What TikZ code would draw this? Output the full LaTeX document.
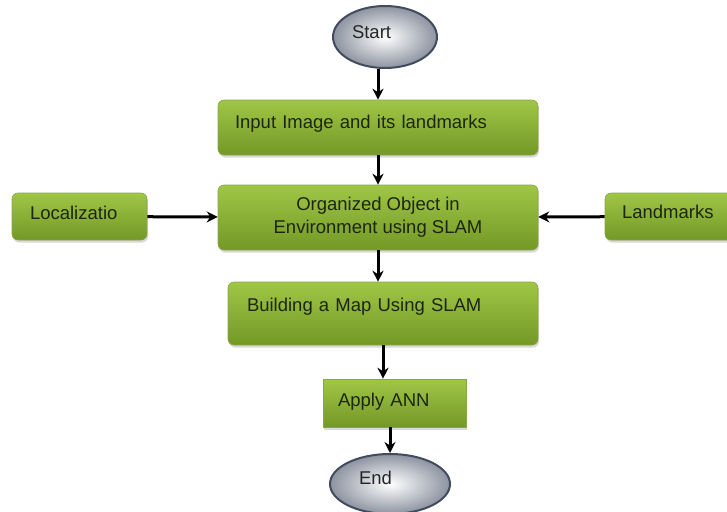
\documentclass[tikz,border=0pt]{standalone}
\usepackage{fontspec}
\setmainfont{Liberation Sans}
\usetikzlibrary{positioning,arrows.meta,shapes.geometric,shadows}
\definecolor{verdeclaro}{RGB}{160,198,70}
\definecolor{verdeoscuro}{RGB}{116,152,38}
\definecolor{tinta}{RGB}{28,38,18}
\definecolor{pizarra}{RGB}{66,76,94}
\definecolor{gris}{RGB}{140,147,160}

\begin{document}
\begin{tikzpicture}[x=1pt, y=-1pt,
    caja/.style={rounded corners=6pt, top color=verdeclaro, bottom color=verdeoscuro,
                 draw=verdeoscuro!85!white, line width=0.6pt, align=left,
                 font=\fontsize{18.5}{23}\selectfont, text=tinta,
                 drop shadow={shadow xshift=1pt, shadow yshift=-2.5pt, opacity=0.3}},
    terminal/.style={ellipse, draw=pizarra, line width=2pt, inner color=white, outer color=gris,
                 inner sep=0pt, align=left, font=\fontsize{18.5}{23}\selectfont, text=black!85},
    flecha/.style={-{Stealth[length=11pt, width=11pt]}, line width=3pt}]
  \useasboundingbox (0,0) rectangle (727,511);
  \clip (0,0) rectangle (727,511);
  \node[terminal, minimum width=104pt, minimum height=62pt, text width=66pt, text depth=10pt] (inicio) at (385,37) {Start};
  \node[caja, minimum width=320pt, minimum height=55pt, text width=286pt, text depth=11pt] (entrada) at (378,127.5) {Input Image and its landmarks};
  \node[caja, minimum width=320pt, minimum height=65pt, align=center] (objeto) at (378,217.5) {Organized Object in\\ Environment using SLAM};
  \node[caja, minimum width=135pt, minimum height=47pt, text width=99pt, text depth=7pt] (local) at (79.5,216.5) {Localizatio};
  \node[caja, minimum width=135pt, minimum height=47pt, text width=101pt, text depth=9pt] (marcas) at (672.5,216.5) {Landmarks};
  \node[caja, minimum width=310pt, minimum height=63pt, text width=272pt, text depth=17pt] (mapa) at (383,313.5) {Building a Map Using SLAM};
  \node[caja, sharp corners, minimum width=143pt, minimum height=48pt, text width=113pt, text depth=6pt] (ann) at (394.5,403) {Apply ANN};
  \node[terminal, minimum width=120pt, minimum height=60pt, text width=62pt, text depth=12pt] (fin) at (390,484) {End};
  \draw[flecha] (inicio.south -| entrada) -- (entrada);
  \draw[flecha] (entrada) -- (objeto);
  \draw[flecha] (objeto.south) -- (objeto.south |- mapa.north);
  \draw[flecha] (mapa.south) -- (mapa.south |- ann.north);
  \draw[flecha] (ann.south -| fin) -- (fin);
  \draw[flecha] (local) -- (objeto);
  \draw[flecha] (marcas) -- (objeto);
\end{tikzpicture}
\end{document}
